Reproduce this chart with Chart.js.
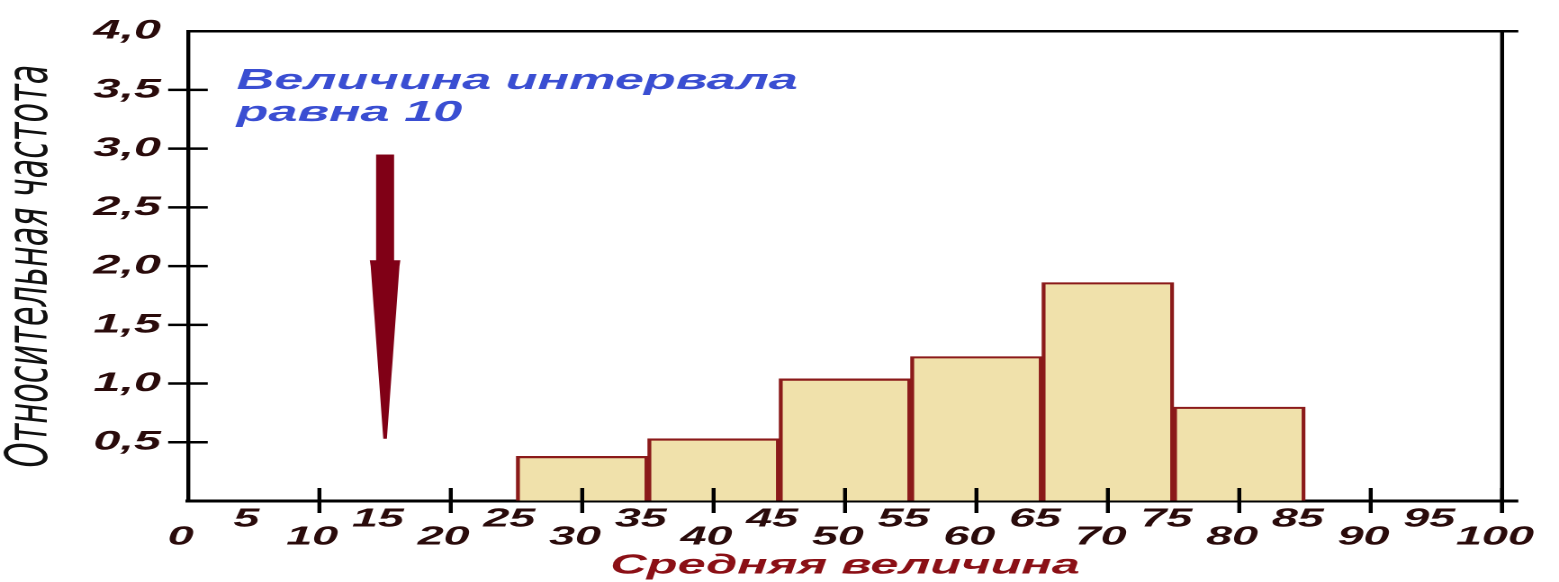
<!DOCTYPE html>
<html>
<head>
<meta charset="utf-8">
<script src="https://cdn.jsdelivr.net/npm/chart.js@4/dist/chart.umd.min.js"></script>
<style>
  html, body { margin: 0; padding: 0; background: #fff; overflow: hidden; }
  /* the reference is stretched horizontally, so the canvas is stretched too */
  #wrap { width: 866px; height: 582px; transform: scaleX(1.80023); transform-origin: 0 0; }
</style>
</head>
<body>
<div id="wrap"><canvas id="chartHist" width="866" height="582"></canvas></div>
<script>
// interval centres (width 10) and relative frequency
const binCenters = [30, 40, 50, 60, 70, 80];
const relFreq = [0.38, 0.53, 1.04, 1.23, 1.86, 0.80];

// tick values
const xTickValues = [0, 5, 10, 15, 20, 25, 30, 35, 40, 45, 50, 55, 60, 65, 70, 75, 80, 85, 90, 95, 100];
const yTickValues = [0, 0.5, 1, 1.5, 2, 2.5, 3, 3.5, 4];

// arrow: x position and y values (top of shaft, start of head, tip)
const arrowX = 15;
const arrowY = [2.95, 2.05, 0.53];

const noteLines = ["Величина интервала", "равна 10"];

const tickColor = "#2a0b0b";
const family = "'Liberation Sans', Arial, sans-serif";

const decor = {
    id: "decor",
    afterDatasetsDraw(chart) {
        const { ctx, chartArea: a, scales } = chart;
        const x = scales.x, y = scales.y;
        ctx.save();
        ctx.strokeStyle = "#000";

        // top line + right line + x axis extension
        ctx.lineWidth = 2.5;
        ctx.beginPath();
        ctx.moveTo(a.left, a.top);
        ctx.lineTo(a.right + 9, a.top);
        ctx.stroke();
        ctx.lineWidth = 3;
        ctx.beginPath();
        ctx.moveTo(a.right, a.bottom);
        ctx.lineTo(a.right + 9, a.bottom);
        ctx.stroke();
        ctx.lineWidth = 2.2;
        ctx.beginPath();
        ctx.moveTo(a.right, a.top);
        ctx.lineTo(a.right, a.bottom + 12);
        ctx.stroke();

        // y tick marks across the axis
        ctx.lineWidth = 2.5;
        yTickValues.forEach(v => {
            if (v === 0 || v === 4) return;
            const py = y.getPixelForValue(v);
            ctx.beginPath();
            ctx.moveTo(a.left - 11, py);
            ctx.lineTo(a.left + 11, py);
            ctx.stroke();
        });
        // x tick marks every 10
        ctx.lineWidth = 2.2;
        xTickValues.forEach(v => {
            if (v === 0 || v % 10 !== 0) return;
            const px = x.getPixelForValue(v);
            ctx.beginPath();
            ctx.moveTo(px, a.bottom - 13);
            ctx.lineTo(px, a.bottom + 12);
            ctx.stroke();
        });

        // arrow
        const ax = x.getPixelForValue(arrowX);
        const y0 = y.getPixelForValue(arrowY[0]);
        const y1 = y.getPixelForValue(arrowY[1]);
        const y2 = y.getPixelForValue(arrowY[2]);
        ctx.fillStyle = "#800016";
        ctx.fillRect(ax - 5, y0, 10, y1 - y0 + 1);
        ctx.beginPath();
        ctx.moveTo(ax - 8.5, y1);
        ctx.lineTo(ax + 8.5, y1);
        ctx.lineTo(ax + 8, y1 + 6);
        ctx.lineTo(ax + 1, y2);
        ctx.lineTo(ax - 1, y2);
        ctx.lineTo(ax - 8, y1 + 6);
        ctx.closePath();
        ctx.fill();

        // note text
        ctx.fillStyle = "#3a4ed2";
        ctx.font = "italic bold 29px " + family;
        ctx.textBaseline = "alphabetic";
        ctx.fillText(noteLines[0], a.left + 27, 89);
        ctx.fillText(noteLines[1], a.left + 27, 121);
        ctx.restore();
    }
};

document.addEventListener("DOMContentLoaded", function () {
    const ctx = document.getElementById("chartHist").getContext("2d");

    new Chart(ctx, {
        type: "bar",
        data: {
            datasets: [
                {
                    label: "Относительная частота",
                    data: binCenters.map((c, i) => ({ x: c, y: relFreq[i] })),
                    backgroundColor: "#f0e1ab",
                    borderColor: "#8b1a1a",
                    borderWidth: 2.2,
                    barThickness: "flex",
                    categoryPercentage: 1,
                    barPercentage: 1,
                },
            ],
        },
        options: {
            responsive: false,
            animation: false,
            devicePixelRatio: 2,
            layout: { padding: { left: 0, right: 31.6, top: 22, bottom: 0 } },
            plugins: { legend: { display: false }, tooltip: { enabled: false } },
            scales: {
                x: {
                    type: "linear",
                    min: 0,
                    max: 100,
                    offset: false,
                    afterBuildTicks: s => { s.ticks = xTickValues.map(v => ({ value: v })); },
                    afterFit: s => { s.height = 81; },
                    grid: { drawOnChartArea: false, drawTicks: false },
                    border: { color: "#000", width: 3 },
                    ticks: {
                        autoSkip: false,
                        maxRotation: 0,
                        minRotation: 0,
                        padding: 9,
                        labelOffset: -4,
                        color: tickColor,
                        font: { family: family, size: 26, weight: "bold", style: "italic", lineHeight: 0.7 },
                        callback: v => (v % 10 === 0 ? ["", String(v)] : [String(v), ""]),
                    },
                    title: {
                        display: true,
                        text: "Средняя величина",
                        color: "#8b1016",
                        padding: 0,
                        font: { family: family, size: 28, weight: "bold", style: "italic", lineHeight: 1.15 },
                    },
                },
                y: {
                    min: 0,
                    max: 4,
                    afterBuildTicks: s => { s.ticks = yTickValues.map(v => ({ value: v })); },
                    afterFit: s => { s.width = 104.4; },
                    grid: { drawOnChartArea: false, drawTicks: false },
                    border: { color: "#000", width: 2.2 },
                    ticks: {
                        padding: 15,
                        color: tickColor,
                        font: { family: family, size: 27, weight: "bold", style: "italic" },
                        callback: v => (v === 0 ? "" : v.toFixed(1).replace(".", ",")),
                    },
                    title: {
                        display: true,
                        text: "Относительная частота",
                        color: "#111",
                        padding: 0,
                        font: { family: "'DejaVu Sans', sans-serif", size: 32, style: "italic", lineHeight: 1.1 },
                    },
                },
            },
        },
        plugins: [decor],
    });
});
</script>
</body>
</html>
